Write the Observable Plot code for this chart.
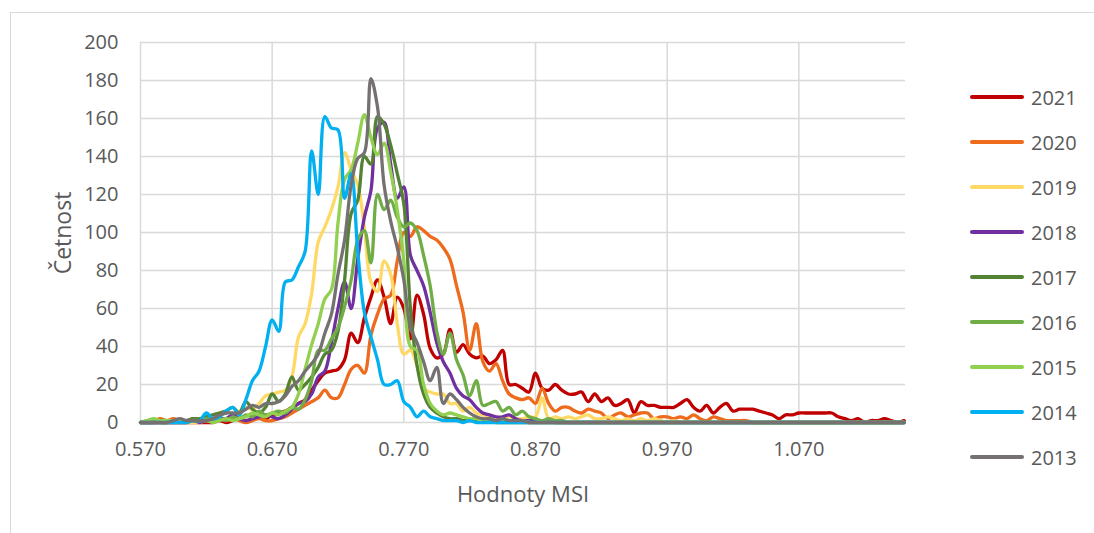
<!DOCTYPE html>
<html>
<head>
<meta charset="utf-8">
<script src="https://cdn.jsdelivr.net/npm/d3@7"></script>
<script src="https://cdn.jsdelivr.net/npm/@observablehq/plot@0.6"></script>
<style>
  body { margin: 0; background: #fff; }
  #wrap { position: relative; width: 1094px; height: 533px; overflow: hidden; font-family: "Open Sans", sans-serif; color: #595959; }
  #frame { position: absolute; left: 10px; top: 12px; width: 1120px; height: 560px; border: 1.5px solid #d9d9d9; box-sizing: border-box; }
  #chart { position: absolute; left: 0; top: 0; }
  .title { position: absolute; white-space: nowrap; }
  #xtitle { left: 523px; top: 493px; font-size: 22px; transform: translate(-50%, -50%); }
  #ytitle { left: 62px; top: 233px; font-size: 23px; transform: translate(-50%, -50%) rotate(-90deg); }
  .leg { position: absolute; left: 970px; height: 30px; display: flex; align-items: center; }
  .leg .sw { width: 54px; height: 3.5px; border-radius: 2px; margin-right: 7px; }
  .leg span { font-size: 20px; }
</style>
</head>
<body>
<div id="wrap">
  <div id="frame"></div>
  <div id="chart"></div>
  <div class="title" id="xtitle">Hodnoty MSI</div>
  <div class="title" id="ytitle">Četnost</div>
  <div id="legend"></div>
</div>
<script>
// ---- data (counts per MSI bin, bins from 0.570 in steps of 0.005) ----
const binStart = 0.570;
const binStep = 0.005;
const years = ["2021", "2020", "2019", "2018", "2017", "2016", "2015", "2014", "2013"];
const colors = ["#C00000", "#EE6A1C", "#FFD966", "#7030A0", "#548235", "#70AD47", "#92D050", "#00B0F0", "#767171"];
const xTicks = [0.570, 0.670, 0.770, 0.870, 0.970, 1.070];
const yTicks = [0, 20, 40, 60, 80, 100, 120, 140, 160, 180, 200];

const s2021 = [
  0,0,0,0,0,0,0,0,0,0,
  0,0,1,0,1,2,1,2,3,2,
  4,5,6,8,10,12,17,22,26,27,
  28,33,47,42,55,66,75,66,52,66,
  60,44,67,57,39,34,36,49,37,41,
  36,34,35,31,33,38,20,20,18,16,
  26,18,17,20,17,15,15,16,11,15,
  11,13,9,10,12,5,11,9,9,8,
  8,8,10,12,8,6,9,5,8,10,
  6,7,7,7,6,5,4,2,4,4,
  5,5,5,5,5,5,3,2,1,2,
  0,1,1,2,1,0,1
];
const s2020 = [
  0,1,1,2,1,2,1,1,2,1,
  2,1,2,1,2,1,0,1,2,1,
  1,2,3,5,7,9,11,13,17,13,
  13,20,28,30,26,46,57,65,67,85,
  100,98,103,101,98,96,92,86,72,58,
  38,52,32,27,31,22,15,13,12,13,
  10,18,10,6,8,8,6,5,7,6,
  5,2,4,5,3,4,5,5,2,3,
  3,2,3,2,4,2,1,3,2,1,
  1,1,1,0,0,0,0,0,0,0,
  0,0,0,0,0,0,0,0,0,0,
  0,0,0,0,0,0,0
];
const s2019 = [
  0,0,0,0,0,0,0,0,0,0,
  1,1,2,2,4,6,8,7,10,14,
  15,16,17,24,45,52,68,95,103,112,
  124,142,133,125,103,74,69,85,78,52,
  36,38,30,18,16,15,15,10,10,6,
  8,5,4,3,3,2,3,2,2,3,
  3,13,2,3,2,3,2,3,4,2,
  2,3,2,1,2,1,2,1,2,1,
  0,1,0,0,0,0,0,0,0,0,
  0,0,0,0,0,0,0,0,0,0,
  0,0,0,0,0,0,0,0,0,0,
  0,0,0,0,0,0,0
];
const s2018 = [
  0,0,0,0,0,0,0,0,1,0,
  1,1,2,2,4,2,1,2,3,4,
  3,2,4,7,10,11,15,24,27,42,
  60,74,60,86,108,122,155,158,136,118,
  124,88,80,72,58,42,32,26,18,14,
  12,8,5,4,3,3,4,2,1,1,
  1,0,1,0,0,0,0,0,0,0,
  0,0,0,0,0,0,0,0,0,0,
  0,0,0,0,0,0,0,0,0,0,
  0,0,0,0,0,0,0,0,0,0,
  0,0,0,0,0,0,0,0,0,0,
  0,0,0,0,0,0,0
];
const s2017 = [
  0,0,0,1,1,0,1,1,2,2,
  3,4,5,6,8,5,11,7,5,8,
  15,11,15,24,17,20,24,29,36,38,
  48,75,110,117,140,136,161,157,146,131,
  115,60,30,15,8,5,3,2,2,1,
  1,1,0,1,0,0,0,0,0,0,
  0,0,0,0,0,0,0,0,0,0,
  0,0,0,0,0,0,0,0,0,0,
  0,0,0,0,0,0,0,0,0,0,
  0,0,0,0,0,0,0,0,0,0,
  0,0,0,0,0,0,0,0,0,0,
  0,0,0,0,0,0,0
];
const s2016 = [
  0,0,1,0,0,1,0,1,1,1,
  2,1,2,1,3,2,4,3,6,4,
  5,6,5,8,7,12,22,38,38,44,
  50,61,75,96,101,84,120,112,117,108,
  103,105,101,88,72,48,36,47,33,25,
  14,22,9,10,11,6,8,4,6,3,
  2,1,2,1,1,0,0,0,0,0,
  0,0,0,0,0,0,0,0,0,0,
  0,0,0,0,0,0,0,0,0,0,
  0,0,0,0,0,0,0,0,0,0,
  0,0,0,0,0,0,0,0,0,0,
  0,0,0,0,0,0,0
];
const s2015 = [
  0,1,2,1,1,1,1,0,1,1,
  1,0,1,2,1,2,3,5,4,3,
  5,4,6,8,15,28,41,52,65,70,
  105,128,133,147,162,150,141,147,132,112,
  85,40,38,20,10,6,4,5,4,3,
  2,2,1,2,1,1,1,0,1,0,
  0,0,0,0,0,0,0,0,0,0,
  0,0,0,0,0,0,0,0,0,0,
  0,0,0,0,0,0,0,0,0,0,
  0,0,0,0,0,0,0,0,0,0,
  0,0,0,0,0,0,0,0,0,0,
  0,0,0,0,0,0,0
];
const s2014 = [
  0,0,0,0,0,0,0,0,1,1,
  5,2,3,6,8,4,12,22,27,40,
  54,48,74,75,82,90,143,120,161,155,
  154,118,131,90,58,45,33,20,20,22,
  11,8,3,6,3,2,1,1,1,0,
  1,0,0,0,0,0,0,0,0,0,
  0,0,0,0,0,0,0,0,0,0,
  0,0,0,0,0,0,0,0,0,0,
  0,0,0,0,0,0,0,0,0,0,
  0,0,0,0,0,0,0,0,0,0,
  0,0,0,0,0,0,0,0,0,0,
  0,0,0,0,0,0,0
];
const s2013 = [
  0,0,0,0,0,1,2,1,1,1,
  1,2,4,5,5,5,7,9,8,10,
  10,11,14,19,22,27,31,36,47,57,
  78,96,125,139,142,181,166,125,106,92,
  75,50,42,32,22,29,10,15,12,8,
  5,3,2,2,1,2,1,1,1,0,
  0,0,0,0,0,0,0,0,0,0,
  0,0,0,0,0,0,0,0,0,0,
  0,0,0,0,0,0,0,0,0,0,
  0,0,0,0,0,0,0,0,0,0,
  0,0,0,0,0,0,0,0,0,0,
  0,0,0,0,0,0,0
];

const seriesValues = [s2021, s2020, s2019, s2018, s2017, s2016, s2015, s2014, s2013];

// ---- build table ----
const rows = [];
seriesValues.forEach((vals, k) => {
  vals.forEach((v, i) => {
    rows.push({ year: years[k], msi: +(binStart + i * binStep).toFixed(3), count: v });
  });
});

const W = 1094, H = 533;
const chart = Plot.plot({
  width: W,
  height: H,
  marginLeft: 140,
  marginRight: 189,
  marginTop: 42,
  marginBottom: 111,
  style: { fontFamily: "Open Sans, sans-serif", fontSize: "20px", color: "#595959", background: "transparent", overflow: "visible" },
  x: { domain: [0.570, 1.151] },
  y: { domain: [0, 200] },
  color: { domain: years, range: colors },
  marks: [
    Plot.gridY(yTicks, { stroke: "#d9d9d9", strokeOpacity: 1, strokeWidth: 1.5 }),
    Plot.gridX(xTicks, { stroke: "#d9d9d9", strokeOpacity: 1, strokeWidth: 1.5 }),
    Plot.axisY(yTicks, { tickSize: 0, tickPadding: 22, label: null }),
    Plot.axisX(xTicks, { tickSize: 0, tickPadding: 19, label: null, tickFormat: d3.format(".3f") }),
    Plot.line(rows, {
      x: "msi", y: "count", z: "year", stroke: "year",
      curve: "catmull-rom", strokeWidth: 3.3, strokeLinejoin: "round", strokeLinecap: "round"
    })
  ]
});
document.getElementById("chart").appendChild(chart);

// ---- legend ----
const legend = document.getElementById("legend");
years.forEach((y, i) => {
  const item = document.createElement("div");
  item.className = "leg";
  item.style.top = (82 + i * 45) + "px";
  const sw = document.createElement("div");
  sw.className = "sw";
  sw.style.background = colors[i];
  const lab = document.createElement("span");
  lab.textContent = y;
  item.appendChild(sw);
  item.appendChild(lab);
  legend.appendChild(item);
});
</script>
</body>
</html>
